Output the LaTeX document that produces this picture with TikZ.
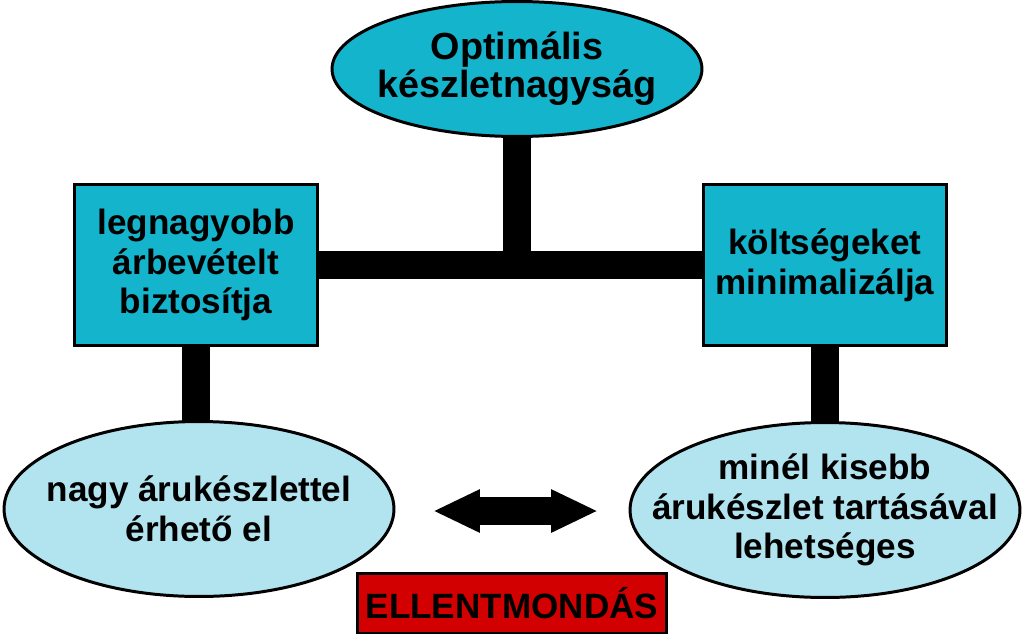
\documentclass[tikz,border=0pt]{standalone}
\usepackage{fontspec}
\setmainfont{Liberation Sans}
\usetikzlibrary{shapes.geometric, arrows.meta, positioning, backgrounds}
\definecolor{cBox}{RGB}{20,180,205}
\definecolor{cLight}{RGB}{178,228,240}
\definecolor{cRed}{RGB}{210,0,0}
\tikzset{
	goal/.style ={ellipse, draw=black, line width=1.7pt, fill=cBox, minimum width=7.4cm, minimum height=2.7cm, inner xsep=-1cm, inner ysep=-0.5cm, align=center, font=\bfseries\fontsize{21.5}{21.5}\selectfont},
	aim/.style  ={rectangle, draw=black, line width=1.7pt, fill=cBox, minimum width=4.86cm, minimum height=3.24cm, align=center},
	way/.style  ={ellipse, draw=black, line width=1.7pt, fill=cLight, minimum width=7.8cm, minimum height=3.5cm, inner xsep=-1cm, inner ysep=-0.5cm, align=center},
	alarm/.style={rectangle, draw=black, line width=1.7pt, fill=cRed, minimum width=6.2cm, minimum height=1.2cm},
	bar/.style  ={line width=0.56cm},
	clash/.style={line width=0.56cm, {Triangle[length=0.94cm, width=0.8cm]}-{Triangle[length=0.94cm, width=0.8cm]}},
}

\begin{document}
\begin{tikzpicture}[x=0.02cm, y=-0.02cm, font=\bfseries\fontsize{20}{22.5}\selectfont]
	\useasboundingbox (0,0) rectangle (1023,635);
	\node[goal] (opt) at (517,69) {Optimális\\ készletnagyság};
	\node[aim] (rev) at (196,265) {legnagyobb\\ árbevételt\\ biztosítja};
	\node[aim] (cost) at (825,265) {költségeket\\ minimalizálja};
	\node[way] (big) at (199,509) {nagy árukészlettel\\ érhető el};
	\node[way] (small) at (825,510) {minél kisebb\\ árukészlet tartásával\\ lehetséges};
	\node[alarm] (contra) at (512,603) {ELLENTMONDÁS};
	\coordinate (cl) at (433,511);
	\coordinate (cr) at (598,511);
	\draw[clash] (cl) -- (cr);
	\begin{scope}[on background layer]
		\draw[bar] (rev) -- (cost);
		\draw[bar] (opt) -- (opt |- rev);
		\draw[bar] (rev) -- (rev |- big);
		\draw[bar] (cost) -- (cost |- small);
	\end{scope}
\end{tikzpicture}
\end{document}
